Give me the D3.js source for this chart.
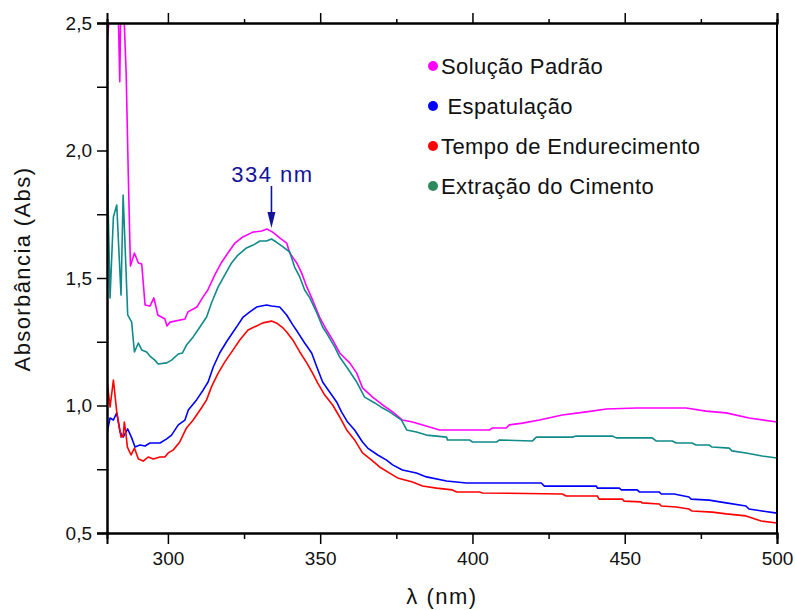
<!DOCTYPE html>
<html>
<head>
<meta charset="utf-8">
<script src="https://cdn.jsdelivr.net/npm/d3@7"></script>
<style>
  body { margin: 0; background: #fff; }
  text { font-family: "Liberation Sans", Arial, sans-serif; }
</style>
</head>
<body>
<div id="chart"></div>
<script>
// wavelength (nm), absorbance pairs
var solucaoPadrao = [
  [280,2.42],[281.5,2.62],[283.5,2.65],[284.2,2.27],[284.6,2.65],[285.3,2.62],[286.3,2.3],[287.0,1.9],
  [287.7,1.547],[289.0,1.598],[290.3,1.559],[291.4,1.555],[292.5,1.394],[294.1,1.390],[295.4,1.422],
  [296.7,1.355],[299.0,1.339],[299.7,1.312],[300.7,1.327],[305.6,1.339],[306.6,1.367],[309.5,1.386],
  [311.5,1.425],[313.1,1.453],[315.4,1.512],[317.7,1.563],[319.7,1.598],[322.0,1.637],[324.6,1.661],
  [327.9,1.680],[330.8,1.684],[332.5,1.692],[334.4,1.680],[336.7,1.657],[339.0,1.637],[340.0,1.598],
  [342.3,1.559],[343.9,1.520],[345.6,1.465],[347.5,1.414],[349.8,1.347],[352.1,1.296],[354.1,1.257],
  [356.4,1.206],[359.7,1.167],[362.0,1.127],[363.9,1.069],[367.2,1.033],[370.5,1.002],[373.8,0.975],
  [377.0,0.943],[380.3,0.935],[385.9,0.916],[389.2,0.904],[405.6,0.904],[406.6,0.912],[411.1,0.912],
  [412.1,0.924],[416.4,0.931],[422.0,0.943],[429.5,0.963],[437.4,0.975],[444.0,0.986],[453.8,0.990],
  [470.2,0.990],[476.7,0.978],[483.3,0.971],[490.8,0.951],[500,0.935]
];
var espatulacao = [
  [280,0.892],[281.0,0.951],[282.1,0.943],[283.2,0.971],[284.3,0.896],[285.3,0.876],[286.8,0.908],
  [288.1,0.873],[289.2,0.837],[290.8,0.845],[292.5,0.841],[294.1,0.853],[297.4,0.853],[299.6,0.869],
  [301.2,0.884],[303.4,0.924],[305.6,0.943],[306.7,0.982],[309.4,1.022],[311.6,1.061],[313.2,1.092],
  [314.9,1.151],[317.0,1.206],[319.2,1.249],[321.4,1.288],[323.0,1.316],[324.7,1.347],[326.9,1.367],
  [329.1,1.386],[330.7,1.390],[332.4,1.394],[334.0,1.390],[336.7,1.386],[339.0,1.355],[341.0,1.316],
  [342.6,1.288],[344.9,1.245],[347.2,1.206],[348.9,1.151],[350.8,1.092],[353.1,1.053],[355.4,1.014],
  [357.0,0.975],[359.0,0.935],[361.3,0.904],[363.9,0.857],[365.6,0.833],[368.9,0.806],[371.8,0.786],
  [373.8,0.767],[377.0,0.747],[381.6,0.735],[384.9,0.720],[391.5,0.704],[398.0,0.696],[422.6,0.696],
  [423.6,0.684],[440.7,0.684],[441.0,0.676],[448.2,0.676],[448.9,0.669],[454.1,0.669],[454.8,0.661],
  [461.3,0.661],[462.0,0.653],[466.2,0.653],[471.1,0.641],[471.8,0.633],[477.7,0.629],[483.3,0.618],
  [489.8,0.606],[490.8,0.594],[495.1,0.586],[500,0.578]
];
var tempoEndurecimento = [
  [280,1.100],[281.0,0.994],[282.1,1.100],[283.2,0.975],[284.6,0.876],[285.3,0.880],[285.7,0.935],
  [286.2,0.892],[286.7,0.837],[287.9,0.806],[289.0,0.833],[290.3,0.790],[291.9,0.782],[293.5,0.798],
  [295.2,0.790],[297.4,0.798],[299.0,0.798],[300.1,0.814],[301.7,0.825],[303.9,0.857],[306.1,0.912],
  [308.3,0.943],[311.0,0.990],[312.7,1.022],[314.3,1.073],[316.5,1.127],[318.7,1.171],[321.4,1.218],
  [323.6,1.257],[326.3,1.296],[329.1,1.312],[331.2,1.324],[334.0,1.331],[335.6,1.324],[337.8,1.304],
  [339.0,1.288],[341.0,1.257],[343.3,1.210],[345.6,1.167],[347.5,1.127],[349.2,1.088],[351.5,1.041],
  [354.1,1.002],[356.4,0.955],[358.7,0.904],[361.3,0.865],[363.9,0.814],[366.9,0.786],[369.5,0.759],
  [372.8,0.735],[375.4,0.716],[380.3,0.700],[383.6,0.684],[388.2,0.676],[393.4,0.669],[394.8,0.661],
  [402.3,0.661],[403.3,0.657],[429.5,0.653],[430.8,0.645],[441.0,0.645],[441.6,0.633],[449.2,0.633],
  [449.8,0.625],[455.4,0.622],[455.7,0.618],[461.3,0.614],[462.0,0.606],[466.9,0.602],[471.1,0.594],
  [472.1,0.586],[478.7,0.582],[483.3,0.575],[489.8,0.567],[494.8,0.547],[500,0.539]
];
var extracaoCimento = [
  [280,2.002],[281.0,1.422],[282.1,1.739],[283.2,1.786],[284.6,1.433],[285.3,1.825],[286.8,1.355],
  [288.1,1.327],[289.0,1.210],[290.3,1.245],[291.4,1.218],[293.0,1.210],[294.1,1.194],[295.7,1.178],
  [296.8,1.163],[299.6,1.167],[301.2,1.178],[303.4,1.202],[304.8,1.206],[306.1,1.237],[308.3,1.269],
  [310.5,1.308],[312.7,1.347],[314.3,1.402],[316.5,1.465],[318.7,1.512],[320.9,1.559],[323.0,1.590],
  [325.8,1.618],[328.0,1.629],[330.2,1.645],[332.4,1.645],[334.0,1.653],[335.6,1.641],[337.8,1.622],
  [340.0,1.602],[341.6,1.543],[343.3,1.504],[344.9,1.453],[346.6,1.422],[348.9,1.363],[350.8,1.308],
  [352.1,1.284],[354.8,1.229],[356.4,1.190],[358.7,1.151],[362.0,1.092],[364.6,1.033],[367.9,1.010],
  [370.5,0.990],[372.8,0.975],[376.7,0.943],[378.4,0.904],[381.6,0.896],[384.9,0.884],[391.5,0.876],
  [391.8,0.865],[399.0,0.865],[400.0,0.857],[407.9,0.857],[408.9,0.865],[419.7,0.861],[421.0,0.876],
  [432.8,0.876],[434.1,0.880],[445.9,0.880],[447.2,0.873],[459.0,0.873],[460.3,0.861],[465.6,0.861],
  [466.9,0.853],[472.1,0.853],[473.4,0.845],[477.7,0.845],[478.7,0.837],[484.3,0.833],[485.2,0.822],
  [489.8,0.814],[495.1,0.802],[500,0.794]
];

var seriesNames = ["Solução Padrão", " Espatulação", "Tempo de Endurecimento", "Extração do Cimento"];
var lineColors = ["#ff00ff", "#0000ff", "#ff0000", "#108a8a"];
var dotColors = ["#ff00ff", "#0000ff", "#ff0000", "#2e8b60"];
var allSeries = [solucaoPadrao, espatulacao, tempoEndurecimento, extracaoCimento];

var xTicks = [300, 350, 400, 450, 500];
var yTicks = [0.5, 1.0, 1.5, 2.0, 2.5];
var peakNm = 334, peakAbs = 1.692;

var width = 795, height = 610;
var margin = { top: 23, right: 18, bottom: 77, left: 107 };

var svg = d3.select("#chart").append("svg")
  .attr("width", width)
  .attr("height", height);

var x = d3.scaleLinear().domain([280, 500]).range([margin.left, width - margin.right]);
var y = d3.scaleLinear().domain([0.5, 2.5]).range([height - margin.bottom, margin.top]);

svg.append("defs").append("clipPath").attr("id", "plot-clip")
  .append("rect")
  .attr("x", margin.left).attr("y", margin.top)
  .attr("width", x.range()[1] - margin.left)
  .attr("height", y.range()[0] - margin.top);

// spectra
var line = d3.line()
  .x(function (d) { return x(d[0]); })
  .y(function (d) { return y(d[1]); });

svg.append("g")
  .attr("clip-path", "url(#plot-clip)")
  .selectAll("path")
  .data(allSeries)
  .enter()
  .append("path")
  .attr("d", line)
  .attr("fill", "none")
  .attr("stroke", function (d, i) { return lineColors[i]; })
  .attr("stroke-width", 1.6)
  .attr("stroke-linejoin", "round");

// axes
var fmt = function (d) { return d3.format(".1f")(d).replace(".", ","); };
var xMinor = d3.range(275, 501, 25).filter(function (d) { return d >= 280 && d % 50 !== 0; });
var yMinor = d3.range(0.75, 2.5, 0.5);

svg.append("g")
  .attr("transform", "translate(0," + y.range()[0] + ")")
  .call(d3.axisBottom(x).tickValues(xTicks).tickSize(11).tickPadding(8).tickFormat(d3.format("d")));
svg.append("g")
  .attr("transform", "translate(0," + y.range()[0] + ")")
  .call(d3.axisBottom(x).tickValues(xMinor).tickSize(6).tickFormat(""));
svg.append("g")
  .attr("transform", "translate(0," + margin.top + ")")
  .call(d3.axisTop(x).tickValues(xTicks).tickSize(10).tickFormat(""));
svg.append("g")
  .attr("transform", "translate(0," + margin.top + ")")
  .call(d3.axisTop(x).tickValues(xMinor).tickSize(4).tickFormat(""));
svg.append("g")
  .attr("transform", "translate(" + margin.left + ",0)")
  .call(d3.axisLeft(y).tickValues(yTicks).tickSize(10).tickPadding(5).tickFormat(fmt));
svg.append("g")
  .attr("transform", "translate(" + margin.left + ",0)")
  .call(d3.axisLeft(y).tickValues(yMinor).tickSize(10).tickFormat(""));
svg.append("line")
  .attr("x1", x.range()[1]).attr("x2", x.range()[1])
  .attr("y1", margin.top).attr("y2", y.range()[0])
  .attr("stroke", "#000").attr("stroke-width", 2);

svg.selectAll(".domain").attr("stroke", "#000").attr("stroke-width", 2);
svg.selectAll(".tick line").attr("stroke", "#000").attr("stroke-width", 1.5);
svg.selectAll(".tick text")
  .attr("fill", "#111")
  .style("font-size", "19px")
  .style("font-family", "'Liberation Sans', Arial, sans-serif");

// axis titles
svg.append("text")
  .attr("x", 442)
  .attr("y", 604)
  .attr("text-anchor", "middle")
  .style("font-size", "22px")
  .style("letter-spacing", "1.5px")
  .attr("fill", "#111")
  .text("λ (nm)");

svg.append("text")
  .attr("transform", "translate(30,269) rotate(-90)")
  .attr("text-anchor", "middle")
  .style("font-size", "22px")
  .style("letter-spacing", "1.4px")
  .attr("fill", "#111")
  .text("Absorbância (Abs)");

// peak annotation
var annColor = "#14149a";
svg.append("text")
  .attr("x", x(peakNm) + 1)
  .attr("y", 182)
  .attr("text-anchor", "middle")
  .style("font-size", "22px")
  .style("letter-spacing", "1.5px")
  .attr("fill", annColor)
  .text("334 nm");
svg.append("line")
  .attr("x1", x(peakNm)).attr("x2", x(peakNm))
  .attr("y1", 186).attr("y2", 214)
  .attr("stroke", annColor).attr("stroke-width", 1.6);
svg.append("path")
  .attr("d", "M" + (x(peakNm) - 4) + ",212 L" + (x(peakNm) + 4) + ",212 L" + x(peakNm) + "," + (y(peakAbs) - 1) + " Z")
  .attr("fill", annColor);

// legend
var legend = svg.append("g").attr("transform", "translate(433,0)");
var legendY = [66, 106, 146, 186];
var item = legend.selectAll("g")
  .data(seriesNames)
  .enter()
  .append("g")
  .attr("transform", function (d, i) { return "translate(0," + legendY[i] + ")"; });
item.append("circle")
  .attr("r", 5)
  .attr("fill", function (d, i) { return dotColors[i]; });
item.append("text")
  .attr("x", 8)
  .attr("y", 8)
  .style("font-size", "22px")
  .style("letter-spacing", "0.4px")
  .style("white-space", "pre")
  .attr("xml:space", "preserve")
  .attr("fill", "#111")
  .text(function (d) { return d; });
</script>
</body>
</html>
